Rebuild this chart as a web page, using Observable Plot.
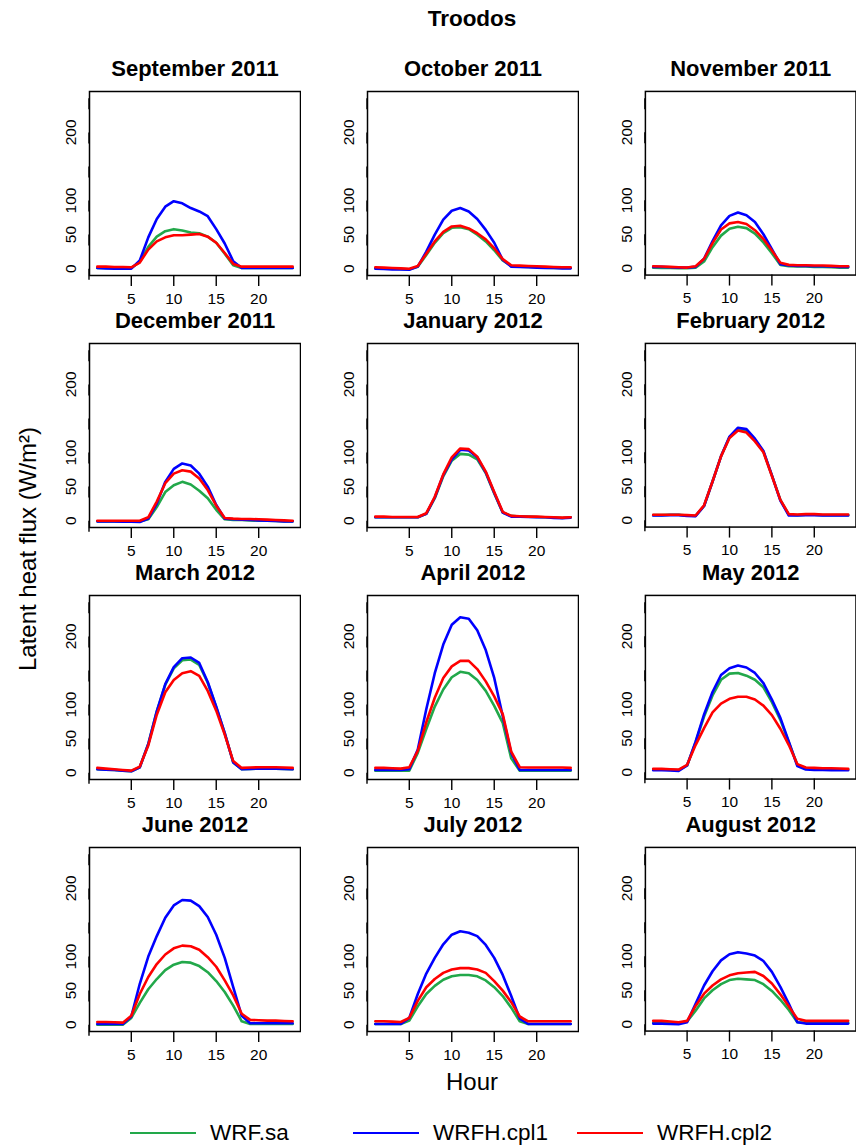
<!DOCTYPE html>
<html><head><meta charset="utf-8">
<script src="https://cdn.jsdelivr.net/npm/d3@7"></script>
<script src="https://cdn.jsdelivr.net/npm/@observablehq/plot@0.6"></script>
<style>
body{margin:0;background:#fff;}
#c{position:relative;width:856px;height:1148px;overflow:hidden;font-family:"Liberation Sans",Arial,sans-serif;color:#000;}
.t{position:absolute;white-space:nowrap;line-height:1;}
.p{position:absolute;}
</style></head><body><div id="c"></div>
<script>
const mainTitle = "Troodos";
const xLabel = "Hour";
const yLabel = "Latent heat flux (W/m²)";
const months = ["September 2011","October 2011","November 2011","December 2011","January 2012","February 2012",
  "March 2012","April 2012","May 2012","June 2012","July 2012","August 2012"];
const hours = [1,2,3,4,5,6,7,8,9,10,11,12,13,14,15,16,17,18,19,20,21,22,23,24];
const seriesNames = ["WRF.sa","WRFH.cpl1","WRFH.cpl2"];
const seriesColors = ["#22A84A","#0000FF","#FF0000"];
const xTicks = [5,10,15,20];
const yTicks = [0,50,100,150,200,250];
const yTickLabels = [0,50,100,200];

const wrfSa = [
  [1,1,1,1,1,10,32,47,55,58,56,53,52,47,38,22,5,1,1,1,1,1,1,1],
  [1,0.5,0,-0.5,-1,3,20,38,52,60,61,58,50,40,27,12,4,3,2.5,2,1.5,1,1,1],
  [1,0.5,0.5,0,0,1,10,31,48,58,61,59,51,38,22,5,3,2.5,2.5,2,2,1.5,1,1],
  [-1,-1,-1,-1,-1,-1,2,20,42,52,57,53,44,33,16,2,1,1,0.5,0,0,-0.5,-1,-1],
  [5,5,5,5,5,5,10,33,65,88,98,97,90,70,40,12,7,6,6,5.5,5,5,4,5],
  [7.5,7.5,8,8,7,6.5,21,57,94,122,134,132,118,101,66,30,8,7.5,8,8,7.5,7.5,7.5,7.5],
  [5,4.5,4,3,2,8,42,90,129,153,165,166,158,132,96,58,15,5,5.5,6,6,6,5.5,5],
  [3,3,3,3,3,29,64,97,122,140,148,146,136,120,98,73,21,3,3,3,3,3,3,3],
  [4,4,3.5,3,10,44,82,113,136,145,146,142,136,125,103,77,44,11,6,5,5,4.5,4,4],
  [0,0,0,0,10,32,52,67,80,88,92,91,86,77,64,48,28,5,1,1,1,1,1,1],
  [1,1,1,1,6,27,45,57,66,71,73,73,71,65,55,42,25,5,1,1,1,1,1,1],
  [2,2,2,2,4,20,38,50,59,65,67,66,65,59,49,36,21,3,2,2,2,2,2,2]
];
const wrfhCpl1 = [
  [1,0.5,0,0,0,12,46,73,91,99,96,89,84,77,58,37,11,1,1,1,1,1,1,1],
  [0,-0.5,-1,-1,-1.5,3,25,50,72,85,89,84,73,57,38,13,3,2.5,2,1.5,1,1,0.5,0.5],
  [2,2,1.5,1,1,2,14,40,63,77,82,78,68,50,28,6,4,3.5,3.5,3,3,2.5,2,2],
  [-1,-1,-1,-1.5,-1.5,-2,3,25,57,76,84,81,69,50,23,3,2,1.5,1,0.5,0,-0.5,-1,-1],
  [5,5,5,5,5,5,10,34,67,90,104,103,93,71,41,12,6,6,5.5,5,5,4,3.5,4.5],
  [7,7,7.5,7.5,6.5,6,21,57,94,123,136,134,120,102,66,29,7,7,7.5,7.5,7,7,7,7],
  [5,4.5,4,3,2,8,42,90,130,155,168,169,161,133,97,58,15,5,5.5,6,6,6,5.5,5],
  [4,4,4,4,5,34,93,146,188,217,228,226,209,180,139,83,29,4,4,4,4,4,4,4],
  [3,3,2.5,2,10,45,85,118,143,153,157,154,146,131,107,80,45,9,4,3.5,3.5,3,3,3],
  [1,1,1,1,12,60,100,130,157,175,183,182,174,158,132,98,55,13,2,2,2,2,2,2],
  [1,1,1,1,10,45,75,98,118,132,137,135,130,117,98,73,42,9,1,1,1,1,1,1],
  [1,1,0.5,0,3,30,57,78,94,103,106,104,101,93,77,55,30,3,1,1,1,1,1,1]
];
const wrfhCpl2 = [
  [3,3,2.5,2.5,2,9,28,40,46,49,49,50,51,47,38,23,7,3,3,3,3,3,3,3],
  [2,1.5,1,0.5,0,4,22,40,54,62,63,59,52,43,30,14,5,4.5,4,3.5,3,2.5,2,2],
  [3,2.5,2,1.5,1,3,14,37,57,66,68,65,56,43,26,8,5,4.5,4.5,4,4,3.5,3,3],
  [0,0,0,0,0,0,5,28,55,69,74,72,62,45,22,4,3,2.5,2.5,2,1.5,1,0.5,0],
  [6,6,5.5,5.5,5.5,5.5,11,35,68,93,106,105,94,72,42,13,7,6.5,6,6,5.5,5,4.5,5],
  [8,8,8,8,7.5,7,22,57,94,121,132,129,116,100,65,30,9,8.5,9,9,8.5,8.5,8.5,8.5],
  [7,6,5,4,3,9,40,85,118,136,146,149,142,120,91,56,17,7,7.5,8,8,8,7.5,7],
  [7,7,6.5,6,8,32,74,110,139,156,164,164,152,134,112,86,31,8,7.5,7.5,7.5,7.5,7.5,7],
  [5,5,4.5,4,11,40,65,88,101,108,111,111,107,98,84,64,40,12,7,6.5,6,6,5.5,5],
  [4,4,3.5,3,13,45,70,89,103,112,116,115,110,99,85,65,43,16,7,6.5,6,6,5.5,5],
  [5,5,4.5,4,10,35,55,67,76,81,83,83,81,76,64,50,33,12,5,5,5,5,5,5],
  [5,5,4,3,5,27,45,57,66,72,75,76,77,71,60,44,26,8,5,5,5,5,5,5]
];

const FONT = '"Liberation Sans", Arial, sans-serif';
const c = document.getElementById("c");
const colLeft = [89.3, 367, 644.5];
const rowTop = [91, 343, 594.7, 846.5];
const PW = 211, PH = 184;
const ML = 60, MR = 1, MT = 42, MB = 38;
const allSeries = [wrfSa, wrfhCpl1, wrfhCpl2];

months.forEach((m, i) => {
  const rows = [];
  allSeries.forEach((s, k) => {
    hours.forEach((h, j) => rows.push({hour: h, value: s[i][j], series: seriesNames[k]}));
  });
  const chart = Plot.plot({
    width: ML + PW + MR,
    height: MT + PH + MB,
    marginLeft: ML, marginRight: MR, marginTop: MT, marginBottom: MB,
    style: {fontFamily: FONT, fontSize: "15.5px", color: "#000", background: "transparent"},
    x: {domain: [0.08, 24.92]},
    y: {domain: [-10, 260]},
    color: {domain: seriesNames, range: seriesColors},
    marks: [
      Plot.axisX({ticks: xTicks, tickSize: 11, tickPadding: 6, strokeWidth: 1.4, fontSize: 15.5, label: null}),
      Plot.axisY({ticks: yTicks, tickSize: 11, tickPadding: 7, strokeWidth: 1.4, fontSize: 15.5, label: null,
        rotate: -90, textAnchor: "middle",
        tickFormat: d => yTickLabels.includes(d) ? String(d) : ""}),
      Plot.line(rows, {x: "hour", y: "value", stroke: "series", z: "series", strokeWidth: 2.6}),
      Plot.frame({stroke: "#000", strokeWidth: 1.5}),
      Plot.text([m], {frameAnchor: "top", dy: -15.5, lineAnchor: "bottom", fontSize: 22, fontWeight: "bold", fill: "#000"})
    ]
  });
  const d = document.createElement("div");
  d.className = "p";
  d.style.left = (colLeft[i % 3] - ML) + "px";
  d.style.top = (rowTop[Math.floor(i / 3)] - MT) + "px";
  d.appendChild(chart);
  c.appendChild(d);
});

function addText(txt, x, baseline, size, weight, anchor) {
  const el = document.createElement("div");
  el.className = "t";
  el.textContent = txt;
  el.style.fontSize = size + "px";
  el.style.fontWeight = weight;
  el.style.lineHeight = size + "px";
  const base = 0.905 * size - (1.117 * size - size) / 2;
  el.style.top = (baseline - base) + "px";
  if (anchor === "middle") { el.style.left = (x - 300) + "px"; el.style.width = "600px"; el.style.textAlign = "center"; }
  else { el.style.left = x + "px"; }
  c.appendChild(el);
  return el;
}
addText(mainTitle, 472, 27, 22.5, "bold", "middle");
addText(xLabel, 472, 1090, 24, "normal", "middle");
const yl = document.createElement("div");
yl.className = "t";
yl.textContent = yLabel;
yl.style.fontSize = "24px";
yl.style.lineHeight = "24px";
yl.style.width = "400px";
yl.style.textAlign = "center";
yl.style.left = (28 - 200) + "px";
yl.style.top = (549 - 12) + "px";
yl.style.transform = "rotate(-90deg)";
c.appendChild(yl);

// legend
const legLineX = [130, 353, 577];
const legTextX = [210, 433, 657];
seriesNames.forEach((s, k) => {
  const ln = document.createElement("div");
  ln.style.position = "absolute";
  ln.style.left = legLineX[k] + "px";
  ln.style.top = (1133 - 1.3) + "px";
  ln.style.width = "66px";
  ln.style.height = "2.6px";
  ln.style.background = seriesColors[k];
  c.appendChild(ln);
  addText(s, legTextX[k], 1141, 22.5, "normal", "start");
});
</script></body></html>
